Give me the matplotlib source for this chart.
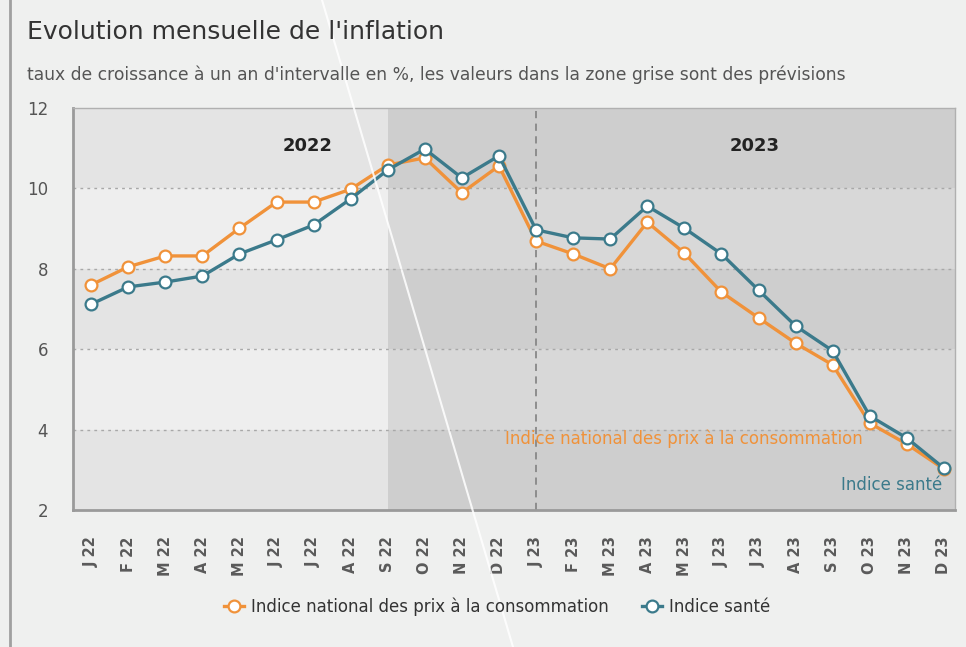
import matplotlib
matplotlib.use("Agg")
import matplotlib.pyplot as plt
from matplotlib.lines import Line2D

# data
months = ["J 22", "F 22", "M 22", "A 22", "M 22", "J 22", "J 22", "A 22", "S 22", "O 22", "N 22", "D 22",
          "J 23", "F 23", "M 23", "A 23", "M 23", "J 23", "J 23", "A 23", "S 23", "O 23", "N 23", "D 23"]
ipc = [7.60, 8.05, 8.32, 8.32, 9.01, 9.66, 9.66, 9.98, 10.58, 10.76, 9.89, 10.56,
       8.69, 8.37, 8.00, 9.16, 8.39, 7.42, 6.78, 6.15, 5.61, 4.16, 3.64, 3.02]
sante = [7.12, 7.55, 7.67, 7.82, 8.37, 8.72, 9.09, 9.74, 10.46, 10.98, 10.26, 10.81,
         8.97, 8.77, 8.74, 9.56, 9.01, 8.37, 7.47, 6.58, 5.96, 4.34, 3.79, 3.04]
yticks = [2, 4, 6, 8, 10, 12]
forecast_start = 8   # S 22
year_split = 12      # J 23

orange = "#f0923a"
teal = "#3b7a8b"
bg = "#eff0ef"

fig = plt.figure(figsize=(9.66, 6.47), dpi=100, facecolor=bg)
ax = fig.add_axes([73 / 966, 1 - 510 / 647, 882 / 966, 402 / 647])
ax.set_facecolor("#e6e6e6")

x = list(range(len(months)))
xmin, xmax = -0.49, 23.3
ax.set_xlim(xmin, xmax)
ax.set_ylim(2, 12)

# alternating bands, lighter for actuals and darker for forecasts
split = (forecast_start - xmin) / (xmax - xmin)
for lo in range(2, 12, 2):
    dark = (lo // 2) % 2 == 1
    ax.axhspan(lo, lo + 2, xmin=0, xmax=split,
               color="#e4e4e4" if dark else "#eeeeee", lw=0, zorder=0)
    ax.axhspan(lo, lo + 2, xmin=split, xmax=1,
               color="#cecece" if dark else "#d8d8d8", lw=0, zorder=0)

for y in yticks[1:-1]:
    ax.axhline(y, color="#a8a8a8", lw=1, ls=(0, (2, 3)), zorder=1)
ax.axvline(year_split, color="#888888", lw=1.3, ls=(0, (4, 3)), zorder=1)

ax.plot(x, ipc, color=orange, lw=2.4, marker="o", ms=8.5, mfc="white", mec=orange, mew=1.6, zorder=3)
ax.plot(x, sante, color=teal, lw=2.4, marker="o", ms=8.5, mfc="white", mec=teal, mew=1.6, zorder=4)

ax.text(5.85, 11.05, "2022", ha="center", va="center", fontsize=13, fontweight="bold", color="#222222")
ax.text(17.9, 11.05, "2023", ha="center", va="center", fontsize=13, fontweight="bold", color="#222222")
ax.text(20.8, 3.76, "Indice national des prix à la consommation", ha="right", va="center",
        fontsize=12, color=orange)
ax.text(22.95, 2.62, "Indice santé", ha="right", va="center", fontsize=12, color=teal)

ax.set_xticks(x)
ax.set_xticklabels(months, rotation=90, fontsize=10.5, color="#5a5a5a", fontweight="bold")
ax.set_yticks(yticks)
ax.set_yticklabels([str(v) for v in yticks], fontsize=12, color="#555555")
ax.tick_params(axis="x", length=0, pad=19)
ax.tick_params(axis="y", length=0, pad=18)
for side in ["left", "bottom"]:
    ax.spines[side].set_color("#9a9a9a")
    ax.spines[side].set_linewidth(2)
for side in ["top", "right"]:
    ax.spines[side].set_color("#b0b0b0")
    ax.spines[side].set_linewidth(1)

handles = [Line2D([], [], color=orange, lw=2.4, marker="o", ms=8.5, mfc="white", mec=orange, mew=1.6),
           Line2D([], [], color=teal, lw=2.4, marker="o", ms=8.5, mfc="white", mec=teal, mew=1.6)]
fig.legend(handles, ["Indice national des prix à la consommation", "Indice santé"],
           loc="center", bbox_to_anchor=(497 / 966, 1 - 607 / 647), ncol=2, frameon=False,
           fontsize=12, handlelength=1.2, handletextpad=0.4, columnspacing=2.0, labelcolor="#333333")

fig.text(27 / 966, 1 - 32 / 647, "Evolution mensuelle de l'inflation", fontsize=18,
         color="#333333", va="center", ha="left")
fig.text(27 / 966, 1 - 75 / 647,
         "taux de croissance à un an d'intervalle en %, les valeurs dans la zone grise sont des prévisions",
         fontsize=12.3, color="#555555", va="center", ha="left")

# panel border on the left and glare line across the screenshot
fig.add_artist(Line2D([10 / 966, 10 / 966], [0, 1], color="#a0a0a0", lw=2))
fig.add_artist(Line2D([322 / 966, 513 / 966], [1, 0], color="white", lw=1.5, alpha=0.85))

fig.savefig("out.png", dpi=100, facecolor=bg)
